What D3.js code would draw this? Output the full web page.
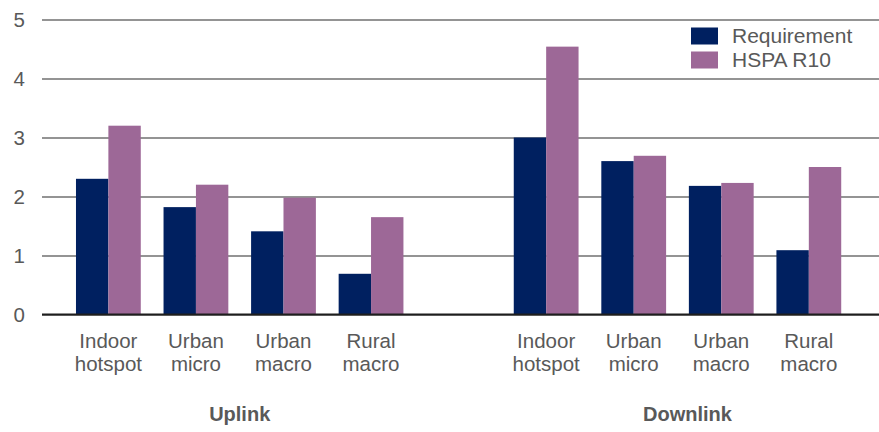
<!DOCTYPE html>
<html>
<head>
<meta charset="utf-8">
<script src="https://cdn.jsdelivr.net/npm/d3@7"></script>
<style>
  html, body { margin: 0; padding: 0; background: #fff; }
  svg { display: block; font-family: "Liberation Sans", Arial, sans-serif; }
</style>
</head>
<body>
<svg id="chart" width="879" height="432"></svg>
<script>
// Spectral efficiency per deployment scenario, uplink and downlink
const categories = ["UL-IH", "UL-UMi", "UL-UMa", "UL-RMa", "gap", "DL-IH", "DL-UMi", "DL-UMa", "DL-RMa"];
const categoryLabels = [
  ["Indoor", "hotspot"], ["Urban", "micro"], ["Urban", "macro"], ["Rural", "macro"],
  [],
  ["Indoor", "hotspot"], ["Urban", "micro"], ["Urban", "macro"], ["Rural", "macro"]
];
const seriesNames = ["Requirement", "HSPA R10"];
const requirement = [2.3, 1.82, 1.41, 0.69, null, 3.0, 2.6, 2.18, 1.09];
const hspaR10 = [3.2, 2.2, 1.98, 1.65, null, 4.54, 2.69, 2.23, 2.5];
const yTicks = [0, 1, 2, 3, 4, 5];
const groupNames = ["Uplink", "Downlink"];
const groupMembers = [["UL-IH", "UL-UMi", "UL-UMa", "UL-RMa"], ["DL-IH", "DL-UMi", "DL-UMa", "DL-RMa"]];

const colors = ["#002060", "#9d6897"];
const textColor = "#595959";
const fontSize = 20.5;

const svg = d3.select("#chart");

const y = d3.scaleLinear().domain([0, 5]).range([314.5, 19.5]);
const x = d3.scaleBand().domain(categories).range([64.6, 852.6])
  .paddingInner(0.26).paddingOuter(0.13);
const xs = d3.scaleBand().domain(seriesNames).range([0, x.bandwidth()]);

// Gridlines and value axis
const yAxis = d3.axisLeft(y).tickValues(yTicks).tickSize(-(879 - 42)).tickPadding(17).tickFormat(d3.format("d"));
const gy = svg.append("g").attr("transform", "translate(42,0)").call(yAxis);
gy.select(".domain").remove();
gy.selectAll(".tick line").attr("stroke", "#707070").attr("stroke-width", 1.5);
gy.selectAll(".tick text").attr("fill", textColor).style("font-size", fontSize + "px");

// Bars
const rows = categories.map((c, i) => ({ cat: c, vals: [requirement[i], hspaR10[i]] }))
  .filter(r => r.vals[0] != null);
const groups = svg.append("g").selectAll("g").data(rows).join("g")
  .attr("transform", d => `translate(${x(d.cat)},0)`);
groups.selectAll("rect").data(d => d.vals.map((v, k) => ({ v, k })))
  .join("rect")
  .attr("x", d => xs(seriesNames[d.k]))
  .attr("width", xs.bandwidth())
  .attr("y", d => y(d.v))
  .attr("height", d => y(0) - y(d.v))
  .attr("fill", d => colors[d.k]);

// Baseline
svg.append("line").attr("x1", 42).attr("x2", 879).attr("y1", y(0)).attr("y2", y(0))
  .attr("stroke", "#1e1e1e").attr("stroke-width", 2.2);

// Category labels (two lines)
const catG = svg.append("g").attr("fill", textColor).style("font-size", fontSize + "px")
  .attr("text-anchor", "middle");
categories.forEach((c, i) => {
  categoryLabels[i].forEach((line, j) => {
    catG.append("text")
      .attr("x", x(c) + x.bandwidth() / 2)
      .attr("y", 348 + j * 23)
      .text(line);
  });
});

// Link group labels
const groupOffsets = [0, 10];
groupNames.forEach((name, i) => {
  const m = groupMembers[i];
  const cx = (x(m[0]) + x(m[m.length - 1]) + x.bandwidth()) / 2 + groupOffsets[i];
  svg.append("text").attr("x", cx).attr("y", 421)
    .attr("text-anchor", "middle").attr("fill", textColor)
    .style("font-size", "20px").style("font-weight", "bold")
    .text(name);
});

// Legend
const legend = svg.append("g").attr("transform", "translate(691,27.5)");
seriesNames.forEach((name, i) => {
  legend.append("rect").attr("x", 0).attr("y", i * 24).attr("width", 27).attr("height", 17)
    .attr("fill", colors[i]);
  legend.append("text").attr("x", 41).attr("y", i * 24 + 15.5)
    .attr("fill", textColor).style("font-size", "21px").text(name);
});
</script>
</body>
</html>
